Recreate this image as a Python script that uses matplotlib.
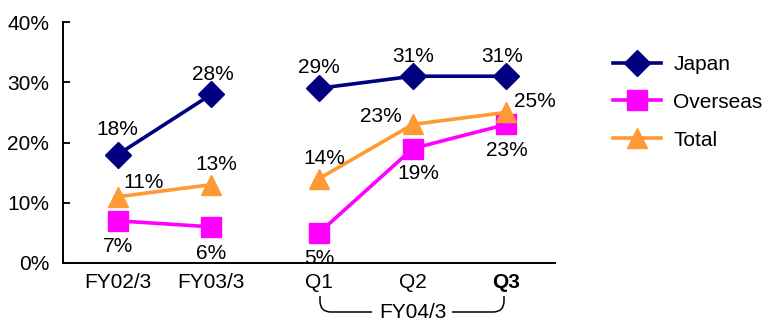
import matplotlib
matplotlib.use("Agg")
import matplotlib.pyplot as plt
from matplotlib.path import Path
from matplotlib.patches import PathPatch

plt.rcParams['font.family'] = ['Liberation Sans', 'DejaVu Sans']

categories = ["FY02/3", "FY03/3", "Q1", "Q2", "Q3"]
japan = [18, 28, 29, 31, 31]
overseas = [7, 6, 5, 19, 23]
total = [11, 13, 14, 23, 25]
group_label = "FY04/3"
y_ticks = [0, 10, 20, 30, 40]

# annual block and quarterly block, separated by a small gap
xpos = [0, 1, 2.15, 3.15, 4.15]
segments = [(0, 2), (2, 5)]

FS = 15

fig = plt.figure(figsize=(7.77, 3.22), dpi=100)
ax = fig.add_axes([63 / 777, 1 - 263 / 322, (555 - 63) / 777, (263 - 22) / 322])

series = [
    ("Japan", japan, "#000080", "D", 13),
    ("Overseas", overseas, "#FF00FF", "s", 15),
    ("Total", total, "#FF9933", "^", 15),
]
# label offsets (pixels) from each marker
offsets = {
    "Japan": [(0, 25), (1, 20), (0, 21), (0, 20), (-4, 20)],
    "Overseas": [(0, -26), (0, -27), (0, -26), (6, -25), (1, -26)],
    "Total": [(26, 14), (5, 20), (5, 20), (-32, 8), (29, 11)],
}

handles = []
for name, vals, color, mk, ms in series:
    for a, b in segments:
        line, = ax.plot(xpos[a:b], vals[a:b], color=color, lw=2.6, marker=mk,
                        ms=ms, markeredgecolor=color, label=name, zorder=3)
    handles.append(line)
    for i, v in enumerate(vals):
        dx, dy = offsets[name][i]
        ax.annotate(f"{v}%", (xpos[i], v), xytext=(dx, dy),
                    textcoords="offset pixels", ha="center", va="center",
                    fontsize=FS, zorder=4)

ax.set_xlim(-0.585, 4.67)
ax.set_ylim(0, 40)
ax.set_yticks(y_ticks)
ax.set_yticklabels([f"{t}%" for t in y_ticks], fontsize=FS)
ax.set_xticks(xpos)
ax.set_xticklabels(categories, fontsize=FS)
ax.get_xticklabels()[-1].set_fontweight("bold")
ax.tick_params(axis="x", length=0, pad=7)
ax.tick_params(axis="y", direction="in", length=5, width=1.3, pad=10)
for s in ("top", "right"):
    ax.spines[s].set_visible(False)
for s in ("left", "bottom"):
    ax.spines[s].set_linewidth(1.4)

leg = fig.legend(handles=handles, labels=["Japan", "Overseas", "Total"],
                 loc="upper left", bbox_to_anchor=(613 / 777, 1 - 55 / 322),
                 frameon=False, fontsize=FS, handlelength=2.3,
                 labelspacing=0.9, handletextpad=0.6,
                 borderpad=0, borderaxespad=0)

# bracket grouping the quarters
ov = fig.add_axes([0, 0, 1, 1], facecolor="none")
ov.set_xlim(0, 777)
ov.set_ylim(322, 0)
ov.axis("off")
r = 11
top, bot = 296, 312
left, right = 320, 504
verts = [(left, top), (left, bot - r), (left, bot), (left + r, bot), (372, bot)]
codes = [Path.MOVETO, Path.LINETO, Path.CURVE3, Path.CURVE3, Path.LINETO]
ov.add_patch(PathPatch(Path(verts, codes), fill=False, lw=1.1, color="black"))
verts = [(452, bot), (right - r, bot), (right, bot), (right, bot - r), (right, top)]
codes = [Path.MOVETO, Path.LINETO, Path.CURVE3, Path.CURVE3, Path.LINETO]
ov.add_patch(PathPatch(Path(verts, codes), fill=False, lw=1.1, color="black"))
ov.text(413, 312, group_label, ha="center", va="center", fontsize=FS)

fig.savefig("out.png", dpi=100)
